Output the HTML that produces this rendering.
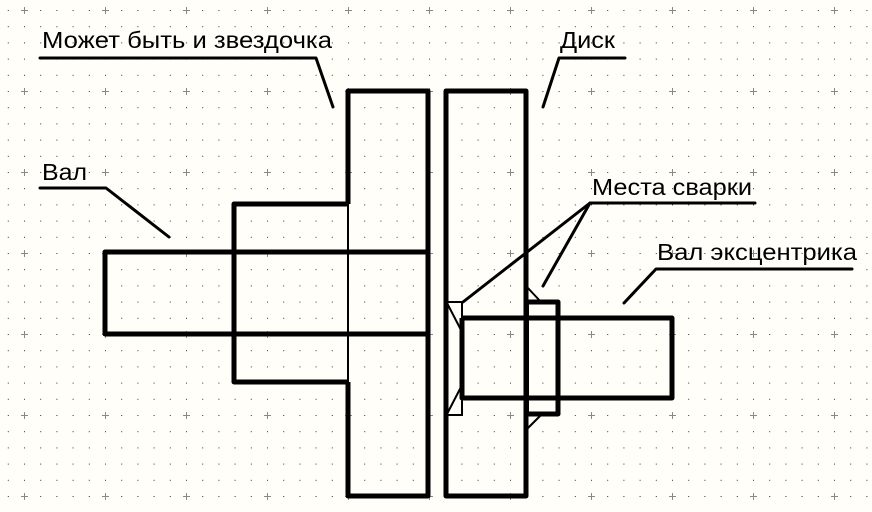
<!DOCTYPE html>
<html><head><meta charset="utf-8"><style>
html,body{margin:0;padding:0;background:#fffef8;}
svg{display:block;}
text{font-family:"Liberation Sans",Arial,sans-serif;font-size:23px;fill:#000;}
</style></head><body>
<svg width="872" height="512" viewBox="0 0 872 512" xmlns="http://www.w3.org/2000/svg">
<defs>
<pattern id="dots" x="7.8" y="10" width="16.2" height="16.2" patternUnits="userSpaceOnUse">
<rect x="0" y="0" width="1" height="1" fill="#333"/>
</pattern>
<pattern id="plus" x="24" y="10" width="81" height="81" patternUnits="userSpaceOnUse">
<rect x="-3" y="0" width="7" height="1" fill="#888"/>
<rect x="0" y="-3" width="1" height="7" fill="#888"/>
<rect x="78" y="0" width="3" height="1" fill="#888"/>
<rect x="0" y="78" width="1" height="3" fill="#888"/>
</pattern>
</defs>
<rect width="872" height="512" fill="#fffef8"/>
<rect width="872" height="512" fill="url(#dots)"/>
<rect width="872" height="512" fill="url(#plus)"/>

<g fill="none" stroke="#000" stroke-width="5" stroke-linejoin="round">
<polyline points="428,252 105,252 105,334 428,334"/>
<polyline points="348,204 234,204 234,382 348,382"/>
<polyline points="348,204 348,91 428,91 428,496 348,496 348,382"/>
<rect x="446" y="91" width="80" height="405"/>
<polyline points="462,318 672,318 672,398 462,398 462,318"/>
<polyline points="526,302 558,302 558,414 526,414"/>
</g>
<g fill="none" stroke="#000" stroke-width="2">
<line x1="348" y1="204" x2="348" y2="382"/>
<line x1="528" y1="302" x2="528" y2="414"/>
<polyline points="447,302 462,302 462,318"/>
<line x1="447" y1="303" x2="461" y2="330"/>
<polyline points="447,415 462,415 462,398"/>
<line x1="447" y1="414" x2="461" y2="387"/>
<line x1="527" y1="287" x2="541" y2="302"/>
<line x1="527" y1="429" x2="541" y2="415"/>
</g>
<g fill="none" stroke="#000" stroke-width="3" stroke-linecap="round" stroke-linejoin="round">
<polyline points="40,58 316,58 333,107"/>
<polyline points="625,58 559,58 543,107"/>
<polyline points="40,188 106,188 169,237"/>
<polyline points="755,203 590,203 463,302"/>
<line x1="590" y1="203" x2="543" y2="286"/>
<polyline points="852,269 656,269 624,303"/>
</g>
<text x="42" y="48" textLength="290" lengthAdjust="spacingAndGlyphs">Может быть и звездочка</text>
<text x="560" y="48" textLength="55" lengthAdjust="spacingAndGlyphs">Диск</text>
<text x="42" y="180" textLength="45" lengthAdjust="spacingAndGlyphs">Вал</text>
<text x="592" y="195" textLength="160" lengthAdjust="spacingAndGlyphs">Места сварки</text>
<text x="657" y="260" textLength="200" lengthAdjust="spacingAndGlyphs">Вал эксцентрика</text>
</svg>
</body></html>
